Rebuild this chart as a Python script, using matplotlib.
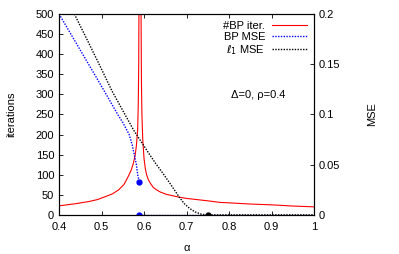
import numpy as np
import matplotlib.pyplot as plt

plt.rcParams['font.family'] = ['Liberation Sans', 'DejaVu Sans']
plt.rcParams['mathtext.fontset'] = 'dejavusans'

# BP iterations (left branch / right branch of the divergence)
alpha_it_l = [0.40, 0.44, 0.469, 0.49, 0.508, 0.525, 0.54, 0.553, 0.563, 0.57, 0.575, 0.579, 0.582, 0.585, 0.5865, 0.5875, 0.588]
iter_l = [22.5, 28, 33, 38, 45, 52, 62, 76, 96, 112, 129, 148, 172, 212, 280, 380, 500]
alpha_it_r = [0.593, 0.5935, 0.594, 0.595, 0.597, 0.600, 0.603, 0.606, 0.610, 0.614, 0.622, 0.630, 0.638, 0.653, 0.683, 0.70, 0.75, 0.779, 0.80, 0.85, 0.90, 0.95, 1.0]
iter_r = [500, 400, 320, 250, 187, 140, 115, 100, 88, 80, 68, 62, 57, 51, 44, 41, 35, 31, 30, 27, 25, 22, 20]

# BP MSE
alpha_bp = [0.40, 0.45, 0.50, 0.538, 0.55, 0.565, 0.572, 0.577, 0.582, 0.585, 0.589]
mse_bp = [0.2, 0.164, 0.128, 0.1, 0.092, 0.08, 0.07, 0.06, 0.05, 0.04, 0.0327]
alpha_bp0 = [0.589, 1.0]
mse_bp0 = [0.0, 0.0]

# l1 MSE
alpha_l1 = [0.436, 0.47, 0.50, 0.525, 0.555, 0.576, 0.593, 0.61, 0.626, 0.645, 0.66, 0.683, 0.695, 0.708, 0.72, 0.732, 0.742, 0.75, 1.0]
mse_l1 = [0.2, 0.171, 0.145, 0.123, 0.1, 0.084, 0.073, 0.062, 0.052, 0.041, 0.032, 0.0176, 0.011, 0.0062, 0.003, 0.001, 0.0002, 0.0, 0.0]

fig = plt.figure(figsize=(3.99, 2.54), dpi=100)
ax = fig.add_axes([0.148, 0.154, 0.639, 0.791])
ax2 = ax.twinx()

ax.plot(alpha_it_l, iter_l, color='red', lw=0.8, label='#BP iter.')
ax.plot(alpha_it_r, iter_r, color='red', lw=0.8)

ax2.plot(alpha_bp, mse_bp, color='blue', lw=1.0, ls=(0, (1, 1)), label='BP MSE')
ax2.plot(alpha_bp0, mse_bp0, color='blue', lw=1.0, ls=(0, (1, 1)))
ax2.plot(alpha_l1, mse_l1, color='black', lw=1.0, ls=(0, (1, 1)), label=r'$\ell_1$ MSE')
ax2.plot([alpha_bp[-1], alpha_bp[-1]], [mse_bp[-1], 0.0], 'o', color='blue', ms=3.5, ls='none')
ax2.plot([alpha_l1[-2]], [0.0], 'o', color='black', ms=3.5)

ax.set_xlim(0.4, 1.0)
ax.set_ylim(0, 500)
ax2.set_ylim(0, 0.2)
ax.set_xticks([0.4, 0.5, 0.6, 0.7, 0.8, 0.9, 1.0])
ax.set_xticklabels(['0.4', '0.5', '0.6', '0.7', '0.8', '0.9', '1'])
ax.set_yticks(np.arange(0, 501, 50))
ax2.set_yticks([0, 0.05, 0.1, 0.15, 0.2])
ax2.set_yticklabels(['0', '0.05', '0.1', '0.15', '0.2'])

for a in (ax, ax2):
    a.tick_params(direction='in', labelsize=8, length=3, width=0.6)
    for s in a.spines.values():
        s.set_linewidth(0.8)
ax.tick_params(axis='x', top=True, pad=5)

ax.set_xlabel(r'α', fontsize=8, labelpad=8)
ax.set_ylabel('iterations', fontsize=8, labelpad=14)
ax2.set_ylabel('MSE', fontsize=8, labelpad=19)

h1, l1 = ax.get_legend_handles_labels()
h2, l2 = ax2.get_legend_handles_labels()
ax2.legend(h1 + h2, l1 + l2, loc='upper right', frameon=False, fontsize=8,
           markerfirst=False, handlelength=3.2, labelspacing=0.1, borderaxespad=0.2,
           handletextpad=0.6)

ax.text(0.868, 298, 'Δ=0, ρ=0.4', fontsize=8, ha='center', va='center')

fig.savefig('out.png', dpi=100)
